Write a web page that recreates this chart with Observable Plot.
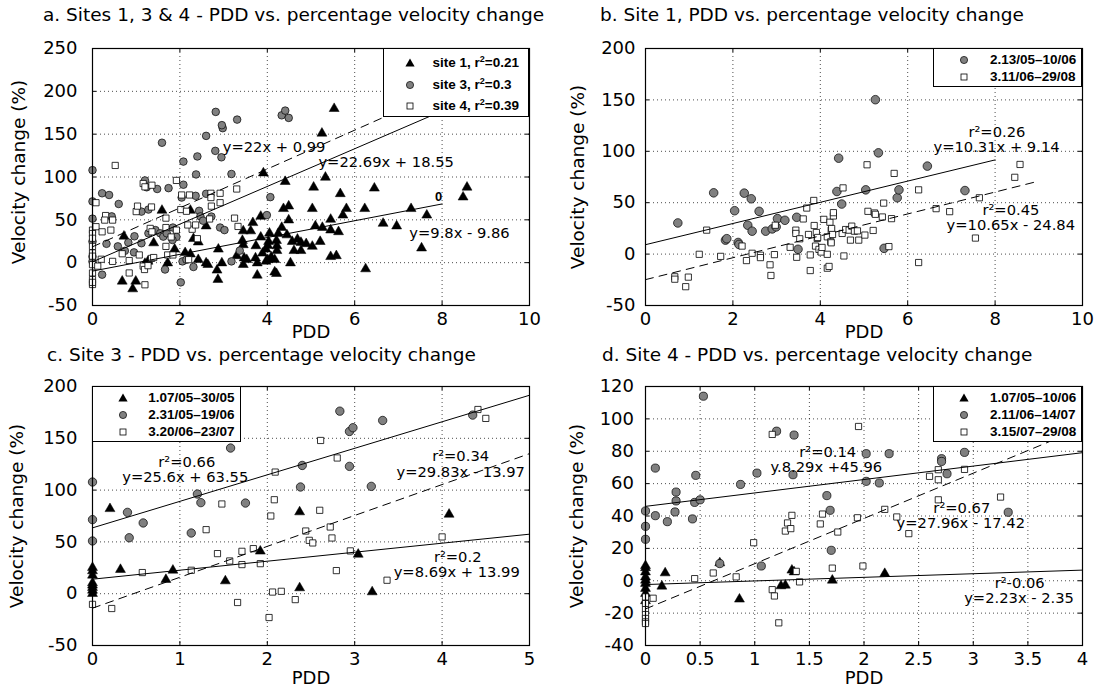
<!DOCTYPE html>
<html><head><meta charset="utf-8">
<script src="https://cdn.jsdelivr.net/npm/d3@7"></script>
<script src="https://cdn.jsdelivr.net/npm/@observablehq/plot@0.6"></script>
<style>
body{margin:0;background:#fff;}
#root{position:relative;width:1102px;height:691px;overflow:hidden;background:#fff;font-family:"DejaVu Sans",sans-serif;}
.title{position:absolute;font-size:18.5px;line-height:20px;white-space:nowrap;color:#000;}
.panel{position:absolute;}
.legend{position:absolute;background:#fff;border:1.3px solid #000;box-sizing:border-box;font-family:"Liberation Sans",Arial,sans-serif;font-weight:bold;font-size:13.5px;color:#000;}
.legend .mk{position:absolute;width:12px;height:12px;margin-left:-6px;margin-top:-6px;}
.legend .tx{position:absolute;white-space:nowrap;line-height:14px;margin-top:-7px;}
.legend sup{font-size:9px;vertical-align:5px;line-height:0;}
</style></head>
<body><div id="root"></div>
<script>
// ---------- Panel a: sites 1, 3 & 4 ----------
const aSite1 = [[5.53,179.8],[5.25,151],[3.91,104.6],[5.33,99.6],[4.41,94.6],[5.06,88],[6.45,86.9],[8.57,88],[8.48,76.5],[5.67,80.4],[1.59,61],[2.24,61],[4.49,66],[4.37,63],[5.03,63],[5.81,63],[6.23,63],[7.29,63],[5.73,55.4],[7.65,55.4],[3.85,54],[3.67,46.6],[5.45,50.5],[4.49,49.7],[6.65,45.8],[6.96,42.7],[2.60,42.7],[5.10,42.7],[5.26,41],[5.45,38],[5.63,36],[7.53,17],[0.72,30.8],[1.40,23],[2.31,28],[2.42,24],[3.45,37],[3.62,37],[4.33,41],[4.05,34.3],[4.25,34],[3.85,29.7],[4.45,32.3],[4.21,25.8],[3.43,25.8],[4.03,24.6],[3.45,20.8],[3.74,19.6],[4.01,20],[4.22,19.6],[4.69,27.3],[4.57,24.6],[4.77,23.5],[4.89,22],[5.03,19],[5.21,24.6],[4.61,14],[4.77,14],[2.88,15.7],[1.88,15.7],[3.97,15.7],[3.89,11],[4.22,14],[2.12,11.6],[2.24,10],[3.73,5.4],[4.09,6.5],[3.47,5.4],[3.53,3.5],[4.01,3.5],[3.97,1.6],[4.17,3.5],[2.42,3.5],[2.60,-0.4],[2.64,-2.3],[2.96,-0.4],[3.30,8],[3.45,-2.3],[3.77,-0.4],[4.53,-0.4],[1.72,-0.4],[1.20,-1],[1.27,1.6],[2.85,-8.8],[4.17,-11],[4.21,-12.8],[3.77,-14.7],[6.25,-7.3],[2.87,-19.7],[0.68,-21.7],[0.99,-21.7],[0.92,-30.7],[5.45,7],[5.58,8]];
const aSite3 = [[0,108],[0,71.5],[0,51.4],[0,24.6],[0,7],[0,1.5],[0.22,81],[0.38,79],[0.60,68.5],[0.32,22],[0.22,-14],[0.58,19],[0.44,54],[1.59,140],[1.20,96],[1.24,88],[1.48,86],[1.74,87],[1.12,59.6],[1.28,62],[2.08,91],[2.08,118],[2.37,103],[2.40,124],[2.60,148],[2.82,176],[2.98,157],[2.96,160.5],[2.95,123],[2.81,130.5],[3.31,167],[3.18,103.5],[2.60,80.4],[2.36,78],[2.04,76],[2.44,60.5],[2.47,54],[2.53,49],[2.72,53.8],[3.99,55.5],[4.07,76.5],[4.33,172],[4.41,177.5],[4.49,169],[1.28,34.3],[1.44,38],[1.55,34.3],[1.62,30.4],[1.70,34.3],[1.84,41],[1.92,30],[1.66,-8],[2.02,-23],[2.06,1.5],[2.15,3.5],[2.31,-5],[2.92,41],[3.02,38],[3.18,1.5],[3.37,14],[1.12,22.7],[0.82,23.5],[0.95,12],[0.74,13.8],[0.96,30.8],[1.83,26.5]];
const aSite4 = [[0,38],[0,34],[0,28.5],[0,19],[0,11.4],[0,7.6],[0,-2.3],[0,-12],[0,-19.7],[0,-25.5],[0,-23],[0.08,70],[0.52,113.5],[0.08,42],[0.22,36],[0.30,55],[0.42,38],[0.46,49.7],[0.28,49.7],[1.00,59.6],[1.03,66],[1.16,92.4],[1.20,88.5],[1.36,90.4],[1.35,65],[1.92,96],[2.04,79],[2.22,79],[2.71,81],[2.92,81],[3.30,86],[2.02,62],[2.15,60],[1.68,52],[3.25,52],[2.92,70],[2.72,66],[2.71,76],[2.68,51],[1.32,40],[1.36,36],[1.68,41],[1.68,19],[1.80,30],[1.92,38],[2.28,39],[2.18,44],[2.40,28],[0.68,10.4],[0.46,1.5],[0.20,4],[0.12,-4],[0.84,2.5],[1.07,9],[1.16,-4],[1.19,-8],[1.27,-3.5],[1.35,5],[1.40,6],[0.84,-12],[1.20,-25.8],[1.72,9],[1.84,9],[2.20,3.5],[2.36,44],[3.33,42.3]];
// fits: [slope, intercept, xStart, xEnd]
const aFits = [[9.8,-9.86,0,8],[22,0.99,0,8],[22.69,18.55,0,8]];
const aFitDashed = [false,false,true];
const aNotes = [["y=22x + 0.99",2.98,135],["y=22.69x + 18.55",5.17,117],["y=9.8x - 9.86",7.25,34]];
const aLegend = ["site 1, r<sup>2</sup>=0.21","site 3, r<sup>2</sup>=0.3","site 4, r<sup>2</sup>=0.39"];

// ---------- Panel b: site 1 ----------
const bPeriod2 = [[0.74,30.3],[1.56,59.6],[1.83,13.6],[1.86,15],[2.04,42.2],[2.12,11.3],[2.14,9.4],[2.26,59.3],[2.34,28.1],[2.42,53.8],[2.44,22.3],[2.60,41.6],[2.75,22.3],[2.90,24.5],[2.99,26.5],[3.02,34.5],[3.19,32.9],[3.46,35.8],[3.49,4.7],[4.38,60.9],[4.42,93.3],[4.49,48.7],[5.04,62.5],[5.26,150.2],[5.33,98.5],[5.46,5.6],[5.76,54.8],[5.80,62.5],[6.45,85.6],[7.31,61.8]];
const bPeriod3 = [[0.67,-22.1],[0.67,-24.4],[0.92,-31.7],[0.98,-22.4],[1.23,-0.2],[1.40,23.3],[1.72,-2.2],[2.21,7.8],[2.31,-6.3],[2.44,0.8],[2.63,-1.1],[2.63,-3.4],[2.85,-10.4],[2.87,-20.8],[2.95,-0.5],[2.97,28.1],[3.31,6.6],[3.44,23.3],[3.44,20.1],[3.46,-3.1],[3.53,14.9],[3.61,34.2],[3.69,44.8],[3.73,19.1],[3.77,-0.8],[3.77,-16],[3.85,52.2],[3.86,27.8],[3.89,7.8],[3.91,21],[3.93,15.2],[3.94,16.2],[3.97,4.6],[4.02,2],[4.04,6.5],[4.08,33.8],[4.16,16.8],[4.16,-0.2],[4.16,-13.7],[4.20,-12],[4.22,31],[4.24,12],[4.25,23.3],[4.25,11],[4.26,24.9],[4.28,19.1],[4.30,37.1],[4.30,40.3],[4.52,64.4],[4.50,20.1],[4.54,-1.8],[4.58,23.9],[4.66,23.3],[4.69,13.6],[4.72,27.2],[4.78,22.3],[4.85,22.6],[4.88,13.6],[5.02,18.5],[5.07,86.9],[5.09,41.6],[5.21,23],[5.24,40],[5.26,38.7],[5.42,36.1],[5.45,49.6],[5.57,7.3],[5.63,34.5],[5.69,78.5],[6.25,62.5],[6.25,-8.2],[6.65,44.2],[6.96,41.3],[7.55,15.6],[7.64,54.8],[8.45,74.7],[8.57,87.2]];
const bFits = [[10.31,9.14,0,8],[10.65,-24.84,0,9]];
const bFitDashed = [false,true];
const bNotes = [["r²=0.26",7.39,118.7],["y=10.31x + 9.14",6.59,103.6],["r²=0.45",7.71,42.5],["y=10.65x - 24.84",6.89,27.8]];
const bLegend = ["2.13/05–10/06","3.11/06–29/08"];

// ---------- Panel c: site 3 ----------
const cPeriod1 = [[0,25.2],[0,22],[0,17.8],[0,10.4],[0,8.2],[0,5.9],[0,3.3],[0,0.1],[0.20,82],[0.32,23.3],[0.84,13.6],[0.92,22.6],[1.52,12.3],[1.92,41],[2.37,78.9],[2.37,5.6],[3.04,38],[3.20,1.7],[4.08,76.6]];
const cPeriod2 = [[0,107.8],[0,71.5],[0,50.9],[0.40,78.5],[0.42,54],[0.58,68.3],[1.13,58.6],[1.20,96.2],[1.24,87.9],[1.58,140.6],[1.75,87.5],[2.38,103],[2.40,123.8],[2.83,176.2],[2.94,156.6],[2.98,160.2],[2.94,122.9],[3.32,167.2],[3.19,103.6],[4.35,172.4]];
const cPeriod3 = [[0,-10.3],[0.22,-14.3],[0.57,20.4],[1.13,22.6],[1.30,61.8],[1.43,38.7],[1.48,86.6],[1.57,31.6],[1.66,-8.5],[1.71,40.9],[1.71,28.1],[1.84,43.5],[1.92,29],[2.02,-23],[2.04,75],[2.08,90.7],[2.09,117.4],[2.06,1.6],[2.16,2.3],[2.32,-5.7],[2.44,60.5],[2.48,51.5],[2.52,49],[2.60,80.5],[2.61,147.9],[2.72,64.4],[2.74,53.8],[2.79,22.3],[2.80,131],[2.95,41.3],[3.37,13],[4.0,54.8],[4.41,177.8],[4.50,169.2]];
const cFits = [[25.6,63.55,0,5],[29.83,-13.97,0,5],[8.69,13.99,0,5]];
const cFitDashed = [false,true,false];
const cNotes = [["r²=0.66",0.753,127.1],["y=25.6x + 63.55",0.34,112.6],["r²=0.34",3.886,132.8],["y=29.83x - 13.97",3.478,117.4],["r²=0.2",3.906,35.5],["y=8.69x + 13.99",3.446,21]];
const cLegend = ["1.07/05–30/05","2.31/05–19/06","3.20/06–23/07"];

// ---------- Panel d: site 4 ----------
const dPeriod1 = [[0,9.3],[0,8],[0,5.4],[0,2.3],[0,0.3],[0,-1.7],[0,-4.8],[0,-7.9],[0,-12.4],[0.15,-3.4],[0.18,4.8],[0.68,11],[0.86,-11.4],[1.24,-3.2],[1.28,-2.8],[1.34,6.5],[1.36,5.4],[1.71,0.3],[2.19,4.4]];
const dPeriod2 = [[0,43.1],[0,33.6],[0,25.6],[0.09,69.6],[0.09,40.2],[0.20,36.5],[0.27,42.5],[0.28,54.8],[0.28,49.3],[0.43,38.2],[0.45,48.4],[0.46,65.1],[0.50,50],[0.53,114],[0.68,10.6],[0.87,59.5],[1.02,66.5],[1.06,9.1],[1.20,92.4],[1.36,90],[1.35,65.5],[1.66,52.6],[1.69,43.5],[1.70,18.8],[2.02,78.5],[2.02,61.4],[2.14,60.4],[2.23,78.5],[2.71,75.4],[2.71,73.7],[2.76,66.1],[2.92,79.3],[3.32,42.3]];
const dPeriod3 = [[0,-10],[0,-14.1],[0,-17.8],[0,-20.9],[0,-23.3],[0,-25.4],[0,-26.4],[0.07,-10.8],[0.45,1.3],[0.62,4.8],[0.83,2.4],[0.99,23.5],[1.16,90.4],[1.16,-5.5],[1.18,-9.4],[1.22,-26],[1.28,30.7],[1.30,35.7],[1.33,32.2],[1.34,40.4],[1.38,5.8],[1.41,-0.7],[1.60,35.1],[1.62,41.2],[1.71,7.8],[1.76,30.1],[1.94,38.9],[1.95,95.3],[1.99,9.1],[2.19,44.1],[2.30,39.4],[2.41,29.1],[2.60,64.5],[2.68,68.6],[2.68,62.4],[2.68,50],[2.92,68.8],[3.25,51.7]];
const dFits = [[8.29,45.96,0,4],[27.96,-17.42,0,4],[2.23,-2.35,0,4]];
const dFitDashed = [false,true,false];
const dNotes = [["r²=0.14",1.407,79.5],["y.8.29x +45.96",1.144,69.8],["r²=0.67",2.635,44.5],["y=27.96x - 17.42",2.298,35.3],["r²-0.06",3.196,-1.8],["y=2.23x - 2.35",2.917,-11]];
const dLegend = ["1.07/05–10/06","2.11/06–14/07","3.15/07–29/08"];

// ---------- axes ----------
const xTicks10 = [0,2,4,6,8,10];
const xTicks5 = [0,1,2,3,4,5];
const xTicks4 = [0,0.5,1,1.5,2,2.5,3,3.5,4];
const yTicksA = [-50,0,50,100,150,200,250];
const yTicks200 = [-50,0,50,100,150,200];
const yTicksD = [-40,-20,0,20,40,60,80,100,120];

const root = document.getElementById("root");
const TRI = {symbol:"triangle", fill:"#000", stroke:"#000", strokeWidth:0.5, r:3.7};
const CIR = {symbol:"circle", fill:"#808080", stroke:"#000", strokeWidth:0.7};
const SQR = {symbol:"square", fill:"#fff", stroke:"#000", strokeWidth:0.8, r:3.5};
const FW = 437; // frame width in px
const TL = 4;   // inward tick length

function addTitle(text, left, top){
  const d = document.createElement("div");
  d.className = "title"; d.textContent = text;
  d.style.left = left+"px"; d.style.top = top+"px";
  root.appendChild(d);
}

function makePanel(o){
  const fitLines = o.fits.map(([m,b,x0,x1],i) => Plot.line([[x0,m*x0+b],[x1,m*x1+b]], {
    x:d=>d[0], y:d=>d[1], stroke:"#000", strokeWidth:1,
    strokeDasharray: o.dashed[i] ? "8,6" : null
  }));
  const dots = o.series.map(([data, style]) => Plot.dot(data, {x:d=>d[0], y:d=>d[1], ...style}));
  const tk = {stroke:"#000", strokeWidth:1};
  const chart = Plot.plot({
    width: 551, height: o.height,
    marginLeft: o.ml, marginRight: 551-o.ml-FW, marginTop: 10, marginBottom: o.height-10-o.fh,
    x: {domain: o.xDomain}, y: {domain: o.yDomain},
    style: {fontFamily:"DejaVu Sans", fontSize:"18px", background:"transparent", overflow:"visible", color:"#000"},
    marks: [
      Plot.gridX(o.xTicks, {stroke:"#000", strokeOpacity:0.7, strokeDasharray:"1,3", strokeWidth:1}),
      Plot.gridY(o.yTicks, {stroke:"#000", strokeOpacity:0.7, strokeDasharray:"1,3", strokeWidth:1}),
      Plot.axisX(o.xTicks, {tickSize:0, tickPadding:7, tickFormat:d=>String(d), label:null, fontSize:18}),
      Plot.axisY(o.yTicks, {tickSize:0, tickPadding:o.ypad, tickFormat:d=>String(d), label:null, fontSize:18}),
      // inward ticks on all four sides
      Plot.tickY(o.yTicks, {y:d=>d, insetRight:FW-TL, ...tk}),
      Plot.tickY(o.yTicks, {y:d=>d, insetLeft:FW-TL, ...tk}),
      Plot.tickX(o.xTicks, {x:d=>d, insetTop:o.fh-TL, ...tk}),
      Plot.tickX(o.xTicks, {x:d=>d, insetBottom:o.fh-TL, ...tk}),
      ...dots,
      ...fitLines,
      Plot.text(o.notes, {x:d=>d[1], y:d=>d[2], text:d=>d[0], textAnchor:"start", lineAnchor:"middle", fontSize:14.7, fill:"#000"}),
      ...(o.extra || []),
      Plot.frame({stroke:"#000", strokeWidth:1.2}),
      Plot.text(["PDD"], {frameAnchor:"bottom", dy:o.xlabDy, lineAnchor:"middle", textAnchor:"middle", fontSize:18, fill:"#000"}),
      Plot.text(["Velocity change (%)"], {frameAnchor:"left", dx:o.ylabDx, dy:o.ylabDy || 0, rotate:-90, textAnchor:"middle", lineAnchor:"middle", fontSize:18.5, fill:"#000"})
    ]
  });
  const wrap = document.createElement("div");
  wrap.className = "panel";
  wrap.style.left = o.left+"px"; wrap.style.top = o.top+"px";
  wrap.appendChild(chart);
  root.appendChild(wrap);
}

function markerSvg(kind){
  if (kind==="tri") return '<svg class="mk" viewBox="-6 -6 12 12"><path d="M0,-4.6L4.6,3.4L-4.6,3.4Z" fill="#000"/></svg>';
  if (kind==="cir") return '<svg class="mk" viewBox="-6 -6 12 12"><circle r="3.6" fill="#808080" stroke="#000" stroke-width="0.7"/></svg>';
  return '<svg class="mk" viewBox="-6 -6 12 12"><rect x="-3" y="-3" width="6" height="6" fill="#fff" stroke="#000" stroke-width="0.8"/></svg>';
}

function addLegend(labels, kinds, box, rows, mkx, txx){
  const d = document.createElement("div");
  d.className = "legend";
  d.style.left = box[0]+"px"; d.style.top = box[1]+"px";
  d.style.width = box[2]+"px"; d.style.height = box[3]+"px";
  labels.forEach((lab,i) => {
    const m = document.createElement("div");
    m.innerHTML = markerSvg(kinds[i]);
    const svg = m.firstChild;
    svg.style.left = mkx+"px"; svg.style.top = rows[i]+"px";
    d.appendChild(svg);
    const t = document.createElement("div");
    t.className = "tx"; t.innerHTML = lab;
    t.style.left = txx+"px"; t.style.top = rows[i]+"px";
    d.appendChild(t);
  });
  root.appendChild(d);
}

// Titles
addTitle("a. Sites 1, 3 & 4 - PDD vs. percentage velocity change", 43, 5);
addTitle("b. Site 1, PDD vs. percentage velocity change", 600, 5);
addTitle("c. Site 3 - PDD vs. percentage velocity change", 47, 345);
addTitle("d. Site 4 - PDD vs. percentage velocity change", 602, 345);

// Panel a
makePanel({left:0, top:38, height:307, fh:257, ml:92, ypad:15, ylabDx:-73, ylabDy:-5, xlabDy:27,
  xDomain:[0,10], yDomain:[-50,250], xTicks:xTicks10, yTicks:yTicksA,
  series:[[aSite1,TRI],[aSite3,{...CIR,r:3.8}],[aSite4,SQR]],
  fits:aFits, dashed:aFitDashed, notes:aNotes,
  extra:[Plot.text([["0",7.92,76.5]], {x:d=>d[1], y:d=>d[2], text:d=>d[0], fontFamily:"Liberation Sans", fontWeight:"bold", fontSize:13, fill:"#000"})]
});
// Panel b
makePanel({left:551, top:38, height:307, fh:257, ml:94, ypad:10, ylabDx:-67, xlabDy:27,
  xDomain:[0,10], yDomain:[-50,200], xTicks:xTicks10, yTicks:yTicks200,
  series:[[bPeriod2,{...CIR,r:4.3}],[bPeriod3,SQR]],
  fits:bFits, dashed:bFitDashed, notes:bNotes
});
// Panel c
makePanel({left:0, top:376, height:315, fh:259, ml:92, ypad:15, ylabDx:-75, xlabDy:33,
  xDomain:[0,5], yDomain:[-50,200], xTicks:xTicks5, yTicks:yTicks200,
  series:[[cPeriod1,TRI],[cPeriod2,{...CIR,r:4.2}],[cPeriod3,SQR]],
  fits:cFits, dashed:cFitDashed, notes:cNotes
});
// Panel d
makePanel({left:551, top:376, height:315, fh:259, ml:94, ypad:11.5, ylabDx:-68, xlabDy:33,
  xDomain:[0,4], yDomain:[-40,120], xTicks:xTicks4, yTicks:yTicksD,
  series:[[dPeriod1,TRI],[dPeriod2,{...CIR,r:4.1}],[dPeriod3,SQR]],
  fits:dFits, dashed:dFitDashed, notes:dNotes
});

// Legends
addLegend(aLegend, ["tri","cir","sqr"], [383,48,146,69], [14,35.5,57], 26, 48.5);
addLegend(bLegend, ["cir","sqr"], [933,48,149,39], [11.3,27.8], 30, 56);
addLegend(cLegend, ["tri","cir","sqr"], [92,386,149,56], [10.6,27.8,45.3], 30, 55.3);
addLegend(dLegend, ["tri","cir","sqr"], [933,386,149,56], [10.6,28.1,45.3], 30, 56);
</script>
</body></html>
